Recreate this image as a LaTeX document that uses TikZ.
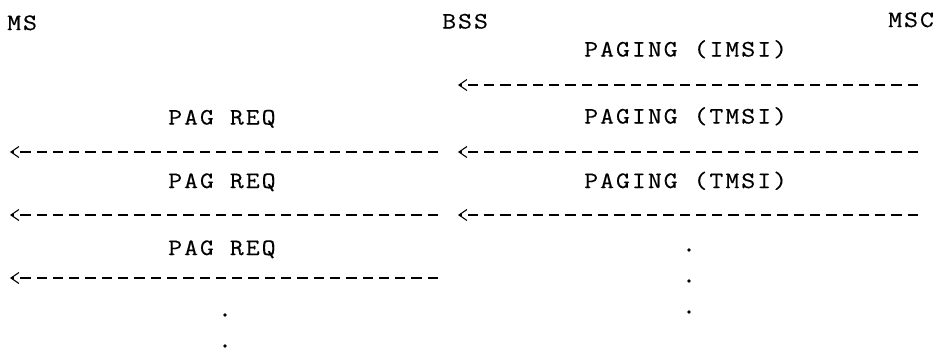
\documentclass[tikz,border=0pt]{standalone}
\usepackage{fontspec}
\usetikzlibrary{arrows.meta}
\newfontfamily\refmono{Latin Modern Mono}[FakeStretch=1.15,LetterSpace=8.5,FakeBold=0.3]
\begin{document}
\begin{tikzpicture}[x=1pt,y=-1pt,
  lbl/.style={font=\refmono\fontsize{23.5}{28}\selectfont, inner sep=0pt, anchor=base west, text=black},
  dotmark/.style={circle, fill=black, draw=none, inner sep=0pt, minimum size=3.6pt},
  msg/.style={draw=black, line width=1.6pt, dash pattern=on 10.3pt off 6pt,
    -{Straight Barb[length=8pt,width=11pt,line width=1.1pt,line join=miter]}}]
\useasboundingbox (0,0) rectangle (941,351);
% headers
\node[lbl] (ms)  at (7,30)    {MS};
\node[lbl] (bss) at (442,28.5) {BSS};
\node[lbl] (msc) at (888,27)  {MSC};
% right column labels
\node[lbl] (p1) at (584,56.5)  {PAGING (IMSI)};
\node[lbl] (p2) at (584,123.5) {PAGING (TMSI)};
\node[lbl] (p3) at (584,188)   {PAGING (TMSI)};
% left column labels
\node[lbl] (q1) at (168,124.5) {PAG REQ};
\node[lbl] (q2) at (168,188)   {PAG REQ};
\node[lbl] (q3) at (168,255)   {PAG REQ};
% connector end points
\coordinate (r1s) at (918,85);  \coordinate (r1e) at (458,85);
\coordinate (r2s) at (918,152); \coordinate (r2e) at (458,152);
\coordinate (r3s) at (918,215); \coordinate (r3e) at (458,215);
\coordinate (l1s) at (438,152); \coordinate (l1e) at (10,152);
\coordinate (l2s) at (438,215); \coordinate (l2e) at (10,215);
\coordinate (l3s) at (438,278); \coordinate (l3e) at (10,278);
\draw[msg] (r1s) -- (r1e);
\draw[msg] (r2s) -- (r2e);
\draw[msg] (r3s) -- (r3e);
\draw[msg] (l1s) -- (l1e);
\draw[msg] (l2s) -- (l2e);
\draw[msg] (l3s) -- (l3e);
% continuation dots
\node[dotmark] (d1) at (689,250) {};
\node[dotmark] (d2) at (689,281) {};
\node[dotmark] (d3) at (689,312) {};
\node[dotmark] (d4) at (225,315) {};
\node[dotmark] (d5) at (225,346) {};
\end{tikzpicture}
\end{document}
